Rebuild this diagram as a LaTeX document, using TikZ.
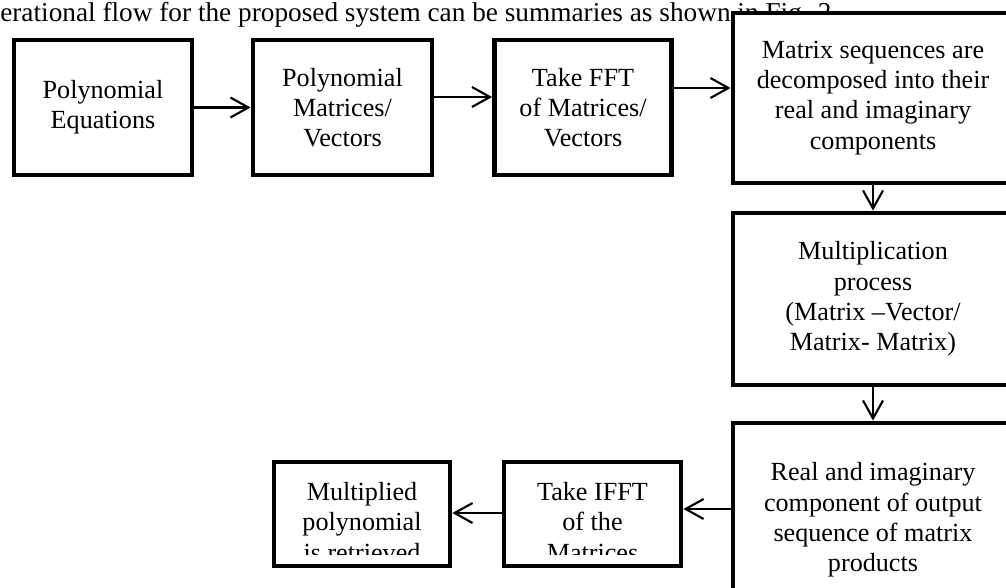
\documentclass[tikz,border=0pt]{standalone}
\usepackage{fontspec}
\setmainfont{Liberation Serif}
\usetikzlibrary{arrows.meta}

\begin{document}
\begin{tikzpicture}[x=0.025cm, y=-0.025cm, >={Straight Barb[length=0.45cm,width=0.5cm]}]
  \tikzstyle{block} = [draw=black, line width=3.4pt, fill=white, align=center, inner sep=0pt, font=\fontsize{18.6}{21.5}\selectfont]
  \tikzstyle{rowbox} = [block, minimum height=3.375cm]
  \tikzstyle{sidebox} = [block, minimum width=7cm]
  \tikzstyle{lowbox} = [block, minimum height=2.6cm]
  \tikzstyle{txt} = [align=center, inner sep=0pt, font=\fontsize{18.6}{21.5}\selectfont]
  \tikzstyle{flow} = [->, line width=1.5pt]

  \useasboundingbox (0,0) rectangle (1006,587);
  \clip (0,0) rectangle (1006,587);

  % running text above the figure
  \node[txt, anchor=base west, font=\fontsize{19.4}{22}\selectfont] (intro) at (0,21) {erational flow for the proposed system can be summaries as shown in Fig. 2};

  % top row
  \node[rowbox, minimum width=4.45cm] (poly) at (103,107.5) {Polynomial\\Equations};
  \node[rowbox, minimum width=4.475cm] (polymat) at (342.5,107.5) {Polynomial\\Matrices/\\Vectors};
  \node[rowbox, minimum width=4.425cm] (fft) at (583,107.5) {Take FFT\\of Matrices/\\Vectors};

  % right column
  \node[sidebox, minimum height=4.25cm] (split) at (873,98) {Matrix sequences are\\decomposed into their\\real and imaginary\\components};
  \node[sidebox, minimum height=4.3cm] (mult) at (873,299) {Multiplication\\process\\(Matrix --Vector/\\Matrix- Matrix)};
  \node[sidebox, minimum height=4.85cm] (parts) at (873,520) {Real and imaginary\\component of output\\sequence of matrix\\products};

  % bottom row
  \node[lowbox, minimum width=4.4cm] (result) at (362,514) {};
  \node[lowbox, minimum width=4.425cm] (ifft) at (592.5,514) {};
  \begin{scope}
    \clip (result.north west) rectangle (ifft.east |- 0,554);
    \node[txt] (resulttext) at (result.center |- 0,522) {Multiplied\\polynomial\\is retrieved};
    \node[txt] (iffttext) at (ifft.center |- 0,522) {Take IFFT\\of the\\Matrices};
  \end{scope}

  \draw[flow] (poly.east) -- (polymat.west);
  \draw[flow] (polymat.east |- 0,97) -- (fft.west |- 0,97);
  \draw[flow] (fft.east |- 0,88) -- (split.west |- 0,88);
  \draw[flow] (split.south) -- (mult.north);
  \draw[flow] (mult.south) -- (parts.north);
  \draw[flow] (parts.west |- 0,509) -- (ifft.east |- 0,509);
  \draw[flow] (ifft.west |- 0,513) -- (result.east |- 0,513);

\end{tikzpicture}
\end{document}
